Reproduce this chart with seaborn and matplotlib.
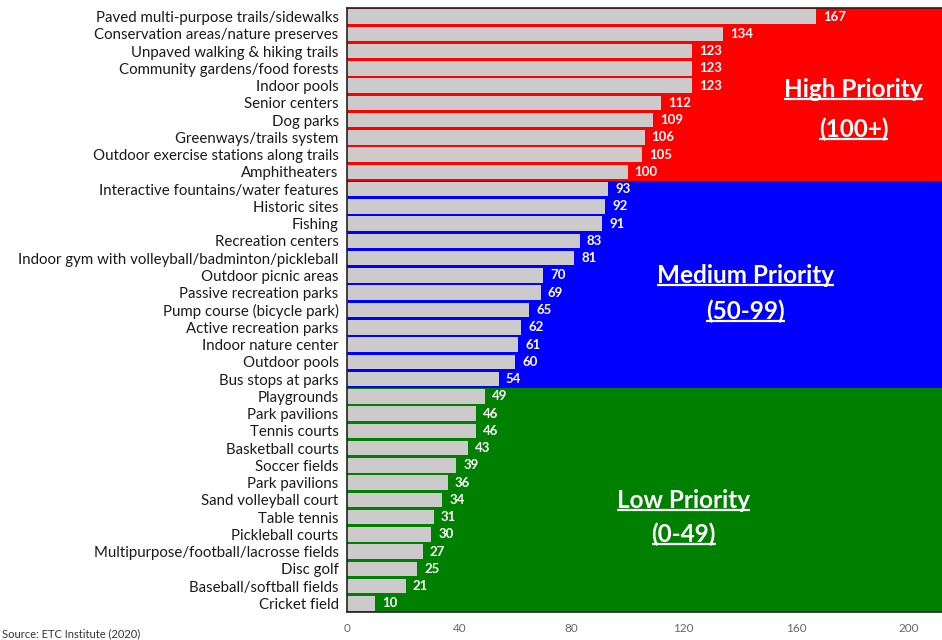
import matplotlib
matplotlib.use("Agg")
import matplotlib.pyplot as plt
import seaborn as sns
import pandas as pd

categories = [
    "Paved multi-purpose trails/sidewalks",
    "Conservation areas/nature preserves",
    "Unpaved walking & hiking trails",
    "Community gardens/food forests",
    "Indoor pools",
    "Senior centers",
    "Dog parks",
    "Greenways/trails system",
    "Outdoor exercise stations along trails",
    "Amphitheaters",
    "Interactive fountains/water features",
    "Historic sites",
    "Fishing",
    "Recreation centers",
    "Indoor gym with volleyball/badminton/pickleball",
    "Outdoor picnic areas",
    "Passive recreation parks",
    "Pump course (bicycle park)",
    "Active recreation parks",
    "Indoor nature center",
    "Outdoor pools",
    "Bus stops at parks",
    "Playgrounds",
    "Park pavilions",
    "Tennis courts",
    "Basketball courts",
    "Soccer fields",
    "Park pavilions",
    "Sand volleyball court",
    "Table tennis",
    "Pickleball courts",
    "Multipurpose/football/lacrosse fields",
    "Disc golf",
    "Baseball/softball fields",
    "Cricket field",
]
values = [167, 134, 123, 123, 123, 112, 109, 106, 105, 100,
          93, 92, 91, 83, 81, 70, 69, 65, 62, 61, 60, 54,
          49, 46, 46, 43, 39, 36, 34, 31, 30, 27, 25, 21, 10]
x_ticks = [0, 40, 80, 120, 160, 200]

sns.set_theme(style="white")
plt.rcParams["font.family"] = ["Lato", "DejaVu Sans"]

df = pd.DataFrame({"key": [str(i) for i in range(len(values))], "value": values})

fig = plt.figure(figsize=(9.42, 6.4), dpi=100)
ax = fig.add_axes([347 / 942, 28 / 640, 595 / 942, 604 / 640])

n = len(values)
# priority bands
ax.axhspan(-0.5, 9.5, color="#ff0000", zorder=0, lw=0)
ax.axhspan(9.5, 21.5, color="#0000ff", zorder=0, lw=0)
ax.axhspan(21.5, n - 0.5, color="#008000", zorder=0, lw=0)

sns.barplot(data=df, x="value", y="key", orient="h", color="#cccaca",
            saturation=1, width=0.84, linewidth=0, ax=ax, zorder=2)

for i, v in enumerate(values):
    ax.text(v + 2.5, i, str(v), color="white", fontweight="bold",
            fontsize=9.5, va="center", ha="left", zorder=3)

ax.set_yticks(range(n))
ax.set_yticklabels(categories, fontsize=10.8, color="#1a1a1a")
ax.set_xlim(0, 212)
ax.set_ylim(n - 0.5, -0.5)
ax.set_xticks(x_ticks)
ax.set_xticklabels([str(t) for t in x_ticks], fontsize=8.5, color="#666666")
ax.tick_params(axis="x", length=0, pad=8)
ax.tick_params(axis="y", length=0, pad=6)
ax.set_xlabel("")
ax.set_ylabel("")
for s in ["top", "bottom", "left"]:
    ax.spines[s].set_visible(True)
    ax.spines[s].set_color("#222222")
    ax.spines[s].set_linewidth(1.2)
ax.spines["right"].set_visible(False)

band_texts = [
    ("High Priority", 180.5, 4.25),
    ("(100+)", 180.5, 6.55),
    ("Medium Priority", 142, 15.0),
    ("(50-99)", 142, 17.05),
    ("Low Priority", 120, 28.05),
    ("(0-49)", 120, 30.0),
]
big = []
for t, x, y in band_texts:
    big.append(ax.text(x, y, t, color="white", fontsize=17.5, fontweight="bold",
                       ha="center", va="center", zorder=4))

fig.canvas.draw()
renderer = fig.canvas.get_renderer()
inv = ax.transData.inverted()
for txt in big:
    bb = txt.get_window_extent(renderer=renderer)
    (x0, y0), (x1, y1) = inv.transform([(bb.x0, bb.y0 + 2), (bb.x1, bb.y0 + 2)])
    ax.plot([x0, x1], [y0, y0], color="white", lw=1.6, zorder=4,
            solid_capstyle="butt")

fig.text(2 / 942, 12 / 640, "Source: ETC Institute (2020)", fontsize=8,
         color="#333333", ha="left", va="top")

fig.savefig("out.png", dpi=100)
